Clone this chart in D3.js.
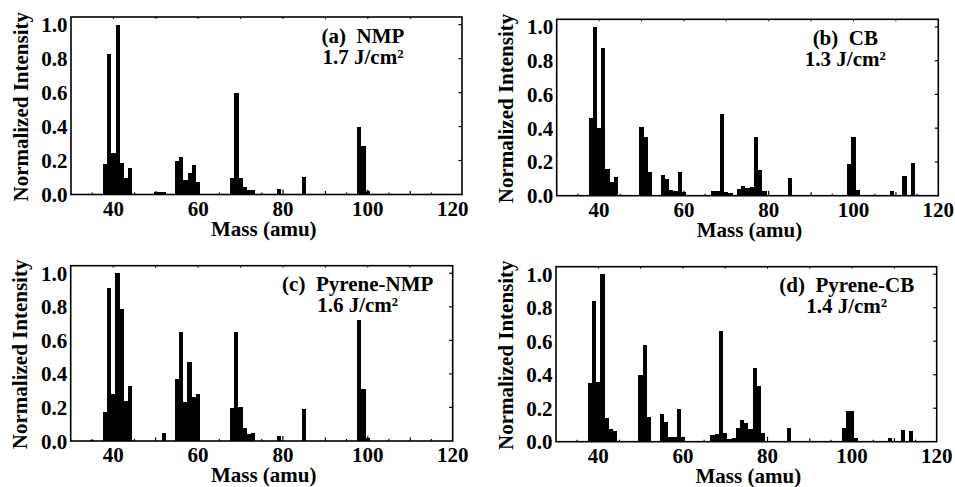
<!DOCTYPE html>
<html>
<head>
<meta charset="utf-8">
<script src="https://cdn.jsdelivr.net/npm/d3@7"></script>
<style>
  html, body { margin: 0; padding: 0; background: #fff; }
  svg { display: block; }
  text { font-family: "Liberation Serif", "Times New Roman", serif; font-weight: bold; fill: #000; }
</style>
</head>
<body>
<svg id="chart" width="955" height="487"></svg>
<script>
// ---------------- data ----------------
const nmpMass      = [35, 38, 39, 40, 41, 42, 43, 44, 50, 51, 52, 55, 56, 57, 58, 59, 60, 65, 66, 67, 68, 69, 70, 71, 72, 73, 74, 75, 76, 77, 79, 85, 98, 99, 100];
const nmpIntensity = [0.005, 0.177, 0.83, 0.245, 1.0, 0.187, 0.10, 0.157, 0.012, 0.015, 0.015, 0.197, 0.22, 0.085, 0.128, 0.173, 0.075, 0.003, 0.003, 0.003, 0.10, 0.60, 0.10, 0.045, 0.025, 0.025, 0.005, 0.005, 0.005, 0.005, 0.03, 0.104, 0.396, 0.287, 0.02];

const cbMass      = [38, 39, 40, 41, 42, 43, 44, 50, 51, 52, 55, 56, 57, 58, 59, 60, 61, 62, 63, 64, 67, 68, 69, 70, 71, 72, 73, 74, 75, 76, 77, 78, 79, 85, 99, 100, 101, 109, 112, 114];
const cbIntensity = [0.46, 1.0, 0.40, 0.874, 0.157, 0.083, 0.108, 0.405, 0.35, 0.138, 0.122, 0.096, 0.033, 0.03, 0.138, 0.024, 0.005, 0.005, 0.005, 0.005, 0.03, 0.03, 0.485, 0.024, 0.018, 0.005, 0.04, 0.06, 0.043, 0.05, 0.35, 0.15, 0.028, 0.106, 0.185, 0.346, 0.033, 0.028, 0.116, 0.195];

const pyreneNmpMass      = [35, 38, 39, 40, 41, 42, 43, 44, 52, 55, 56, 57, 58, 59, 60, 68, 69, 70, 71, 72, 73, 79, 85, 98, 99, 100];
const pyreneNmpIntensity = [0.005, 0.17, 0.91, 0.28, 1.0, 0.785, 0.24, 0.33, 0.045, 0.37, 0.65, 0.23, 0.47, 0.26, 0.28, 0.195, 0.65, 0.20, 0.08, 0.04, 0.05, 0.03, 0.19, 0.72, 0.31, 0.02];

const pyreneCbMass      = [38, 39, 40, 41, 42, 43, 44, 50, 51, 52, 55, 56, 57, 58, 59, 60, 67, 68, 69, 70, 71, 72, 73, 74, 75, 76, 77, 78, 79, 85, 98, 99, 100, 101, 109, 112, 114];
const pyreneCbIntensity = [0.35, 0.84, 0.356, 1.0, 0.14, 0.073, 0.065, 0.40, 0.58, 0.145, 0.165, 0.12, 0.03, 0.03, 0.195, 0.03, 0.04, 0.045, 0.663, 0.053, 0.014, 0.02, 0.083, 0.13, 0.11, 0.073, 0.44, 0.333, 0.053, 0.08, 0.08, 0.184, 0.184, 0.024, 0.02, 0.07, 0.065];

const panelNames   = ["(a)  NMP", "(b)  CB", "(c)  Pyrene-NMP", "(d)  Pyrene-CB"];
const panelFluence = ["1.7 J/cm\u00B2", "1.3 J/cm\u00B2", "1.6 J/cm\u00B2", "1.4 J/cm\u00B2"];
const xTickValues  = [40, 60, 80, 100, 120];
const yTickValues  = [0, 0.2, 0.4, 0.6, 0.8, 1.0];
const xTitle = "Mass (amu)";
const yTitle = "Normalized Intensity";

// ---------------- layout (pixels) ----------------
const layout = [
  { left: 71,    top: 17,    right: 462,   bottom: 194.5, xmin: 30, xmax: 122.2, labelDx: -99 },
  { left: 556.7, top: 19.3,  right: 938.3, bottom: 195.7, xmin: 30, xmax: 120,   labelDx: -93 },
  { left: 70.7,  top: 265.7, right: 452.7, bottom: 441,   xmin: 30, xmax: 120,   labelDx: -95 },
  { left: 556,   top: 266.7, right: 936.7, bottom: 441.7, xmin: 30, xmax: 120,   labelDx: -90 }
];
const series = [
  { mass: nmpMass, inten: nmpIntensity },
  { mass: cbMass, inten: cbIntensity },
  { mass: pyreneNmpMass, inten: pyreneNmpIntensity },
  { mass: pyreneCbMass, inten: pyreneCbIntensity }
];
const yMax = 1.045;
const fontSize = 21;

const svg = d3.select("#chart");

layout.forEach((L, i) => {
  const x = d3.scaleLinear().domain([L.xmin, L.xmax]).range([L.left, L.right]);
  const y = d3.scaleLinear().domain([0, yMax]).range([L.bottom, L.top]);
  const g = svg.append("g");
  const data = series[i].mass.map((m, k) => ({ m, v: series[i].inten[k] }));

  // bars
  g.append("g").selectAll("rect").data(data).join("rect")
    .attr("x", d => x(d.m - 0.5))
    .attr("width", d => x(d.m + 0.5) - x(d.m - 0.5))
    .attr("y", d => y(d.v))
    .attr("height", d => y(0) - y(d.v))
    .attr("fill", "#000")
    .attr("shape-rendering", "crispEdges");

  // inner ticks: bottom every 5 amu, top every 10 amu
  const bt = d3.range(35, 120, 5);
  g.append("g").selectAll("line").data(bt).join("line")
    .attr("x1", d => x(d)).attr("x2", d => x(d))
    .attr("y1", L.bottom).attr("y2", d => L.bottom - (d % 20 === 0 ? 5 : (d % 10 === 0 ? 3.5 : 2)))
    .attr("stroke", "#000").attr("stroke-width", 1.2);
  g.append("g").selectAll("line").data(d3.range(40, 120, 10)).join("line")
    .attr("x1", d => x(d)).attr("x2", d => x(d))
    .attr("y1", L.top).attr("y2", L.top + 2)
    .attr("stroke", "#000").attr("stroke-width", 1);
  // right ticks
  g.append("g").selectAll("line").data(yTickValues.slice(1)).join("line")
    .attr("x1", L.right).attr("x2", L.right - 3.5)
    .attr("y1", d => y(d)).attr("y2", d => y(d))
    .attr("stroke", "#000").attr("stroke-width", 1.2);

  // frame
  g.append("rect")
    .attr("x", L.left).attr("y", L.top)
    .attr("width", L.right - L.left).attr("height", L.bottom - L.top)
    .attr("fill", "none").attr("stroke", "#000").attr("stroke-width", 1.6);

  // y tick labels
  g.append("g").selectAll("text").data(yTickValues).join("text")
    .attr("x", L.left - 3.5)
    .attr("y", d => y(d))
    .attr("dy", "0.36em")
    .attr("text-anchor", "end")
    .attr("font-size", fontSize)
    .text(d => d3.format(".1f")(d));

  // x tick labels
  g.append("g").selectAll("text").data(xTickValues).join("text")
    .attr("x", d => x(d))
    .attr("y", L.bottom + 21)
    .attr("text-anchor", "middle")
    .attr("font-size", fontSize)
    .text(d => d);

  // axis titles
  g.append("text")
    .attr("x", x(75) + 2)
    .attr("y", L.bottom + 41)
    .attr("text-anchor", "middle")
    .attr("font-size", fontSize)
    .text(xTitle);
  const cy = (L.top + L.bottom) / 2 + 1;
  g.append("text")
    .attr("transform", `translate(${L.left - 43.5},${cy}) rotate(-90)`)
    .attr("text-anchor", "middle")
    .attr("font-size", fontSize)
    .text(yTitle);

  // panel annotation
  g.append("text")
    .attr("x", L.right + L.labelDx)
    .attr("y", L.top + 25.5)
    .attr("text-anchor", "middle")
    .attr("font-size", fontSize)
    .attr("xml:space", "preserve")
    .style("white-space", "pre")
    .text(panelNames[i]);
  g.append("text")
    .attr("x", L.right + L.labelDx)
    .attr("y", L.top + 46.5)
    .attr("text-anchor", "middle")
    .attr("font-size", fontSize)
    .text(panelFluence[i]);
});
</script>
</body>
</html>
